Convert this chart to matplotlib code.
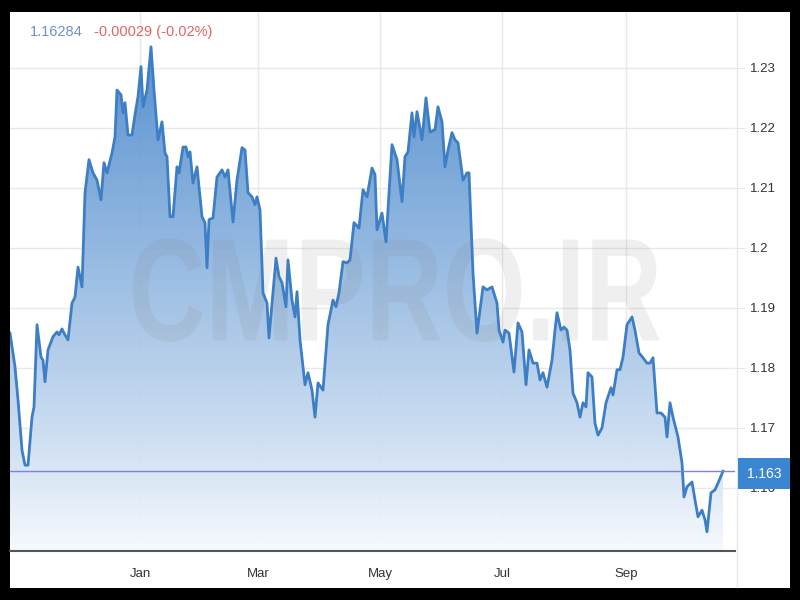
import matplotlib
matplotlib.use("Agg")
import matplotlib.pyplot as plt
import numpy as np
from matplotlib.patches import Rectangle, PathPatch, Polygon
from matplotlib.textpath import TextPath
from matplotlib.font_manager import FontProperties
from matplotlib.transforms import Affine2D
from matplotlib.lines import Line2D

plt.rcParams['font.family'] = ['Liberation Sans', 'DejaVu Sans']

# days since 2020-10-28 and EUR/USD close
start = np.datetime64('2020-10-28')
days = [0, 2.5, 4, 6, 7.5, 9, 11, 12, 13.5, 15.5, 16.5, 17.5, 19, 21.5, 23.5, 24.5, 26, 27.5, 29,
        31, 32.5, 34, 36, 37.5, 39.5, 41.5, 43.5, 45.5, 47, 48.5, 51, 52.5, 53.5, 55.5, 56.5, 57.5,
        59, 61, 62.5, 64, 65.5, 66.5, 68.5, 70.5, 72, 74, 76, 77.5, 78.5, 80, 81.5, 83.5, 84.5, 86.5,
        88, 89, 90, 91.5, 93.5, 96, 97.5, 98.5, 99.5, 101.5, 103.5, 106, 107.5, 109, 111.5, 113.5,
        116, 117.5, 119, 121, 122.5, 123.5, 125, 126.5, 128.5, 129.5, 131.5, 133, 134.5, 136, 138,
        139, 141, 142.5, 143.5, 145, 147.5, 149, 151, 152.5, 154, 156.5, 159, 161.5, 163, 164.5,
        166.5, 168.5, 170, 172, 174.5, 176.5, 178.5, 181, 182.5, 183.5, 186, 188, 191, 193.5, 196,
        197.5, 199, 201, 202, 203.5, 206, 208, 210, 212.5, 214, 216, 217.5, 219, 221, 222.5, 224,
        226.5, 228.5, 229.5, 231.5, 233.5, 236.5, 238.5, 241, 243.5, 244.5, 246.5, 247.5, 249.5,
        252, 254, 256, 258, 259.5, 261.5, 263.5, 265, 266.5, 268.5, 271, 272.5, 273.5, 275.5, 277,
        278.5, 280, 281.5, 283.5, 285, 286.5, 288, 289, 291, 292.5, 294, 296, 298, 300.5, 301.5,
        303.5, 305, 306.5, 308.5, 311, 312.5, 314.5, 316.5, 318.5, 320, 321.5, 323.5, 325.5, 327.5,
        328.5, 330, 331.5, 334, 336, 337, 338.5, 341, 342.5, 344, 346, 347.5, 348.5, 350.5, 352.5,
        354, 356.5]
price = [1.1858, 1.1802, 1.1747, 1.1663, 1.1638, 1.1638, 1.1718, 1.1735, 1.1872, 1.1818, 1.1813,
         1.1777, 1.1830, 1.1852, 1.1860, 1.1855, 1.1865, 1.1855, 1.1847, 1.1908, 1.1918, 1.1968,
         1.1935, 1.2092, 1.2147, 1.2125, 1.2113, 1.2080, 1.2142, 1.2125, 1.2158, 1.2185, 1.2263,
         1.2255, 1.2225, 1.2242, 1.2188, 1.2188, 1.2222, 1.2252, 1.2302, 1.2235, 1.2263, 1.2335,
         1.2263, 1.2180, 1.2210, 1.2158, 1.2152, 1.2052, 1.2052, 1.2135, 1.2125, 1.2168, 1.2168,
         1.2152, 1.2160, 1.2108, 1.2135, 1.2052, 1.2042, 1.1967, 1.2047, 1.2050, 1.2118, 1.2130,
         1.2118, 1.2130, 1.2043, 1.2113, 1.2167, 1.2163, 1.2092, 1.2085, 1.2072, 1.2085, 1.2063,
         1.1925, 1.1908, 1.1850, 1.1925, 1.1983, 1.1952, 1.1942, 1.1902, 1.1980, 1.1913, 1.1885,
         1.1927, 1.1847, 1.1772, 1.1792, 1.1763, 1.1718, 1.1775, 1.1763, 1.1872, 1.1913, 1.1902,
         1.1925, 1.1977, 1.1975, 1.1980, 1.2042, 1.2033, 1.2097, 1.2085, 1.2133, 1.2122, 1.2030,
         1.2058, 1.2010, 1.2172, 1.2147, 1.2077, 1.2152, 1.2160, 1.2225, 1.2185, 1.2227, 1.2180,
         1.2250, 1.2193, 1.2197, 1.2235, 1.2210, 1.2135, 1.2163, 1.2192, 1.2180, 1.2175, 1.2113,
         1.2125, 1.2125, 1.1958, 1.1858, 1.1935, 1.1930, 1.1935, 1.1908, 1.1863, 1.1843, 1.1863,
         1.1858, 1.1793, 1.1875, 1.1860, 1.1772, 1.1830, 1.1808, 1.1808, 1.1780, 1.1792, 1.1768,
         1.1813, 1.1863, 1.1892, 1.1863, 1.1868, 1.1863, 1.1830, 1.1758, 1.1742, 1.1718, 1.1742,
         1.1735, 1.1792, 1.1785, 1.1708, 1.1688, 1.1700, 1.1742, 1.1767, 1.1755, 1.1797, 1.1797,
         1.1818, 1.1872, 1.1885, 1.1863, 1.1825, 1.1817, 1.1808, 1.1808, 1.1817, 1.1725, 1.1725,
         1.1718, 1.1685, 1.1742, 1.1718, 1.1685, 1.1642, 1.1585, 1.1602, 1.1610, 1.1580, 1.1552,
         1.1563, 1.1547, 1.1527, 1.1592, 1.1597, 1.1608, 1.1628]

month_labels = ['Jan', 'Mar', 'May', 'Jul', 'Sep']
month_dates = ['2021-01-01', '2021-03-01', '2021-05-01', '2021-07-01', '2021-09-01']
yticks = [1.16, 1.17, 1.18, 1.19, 1.20, 1.21, 1.22, 1.23]
last_price = 1.16284
last_label = '1.163'
change_text = '-0.00029 (-0.02%)'
watermark = 'CMPRO.IR'

W, H = 800, 600
fig = plt.figure(figsize=(8, 6), dpi=100, facecolor='black')

# white card inside the black frame
fig.add_artist(Rectangle((10 / W, 12 / H), 780 / W, 576 / H, transform=fig.transFigure,
                         facecolor='white', edgecolor='none', zorder=-1))

ax = fig.add_axes([10 / W, 49 / H, 725 / W, 539 / H])
ax.set_facecolor('white')
ymin, ymax = 1.1495, 1.2393
xmin, xmax = 0, 362.5

# gradient fill clipped to the area under the curve
top_col = np.array([66, 131, 202]) / 255
bot_col = np.array([247, 250, 254]) / 255
t = np.linspace(0, 1, 256)[:, None, None]
grad = bot_col + (top_col - bot_col) * t ** 0.9
img = ax.imshow(grad, extent=[xmin, xmax, ymin, ymax], aspect='auto', origin='lower',
                alpha=0.93, zorder=1)
verts = np.column_stack([np.r_[days[0], days, days[-1]], np.r_[ymin, price, ymin]])
area = Polygon(verts, closed=True, facecolor='none', edgecolor='none')
ax.add_patch(area)
img.set_clip_path(area)

ax.plot(days, price, color='#3d7ec4', lw=2, zorder=3)
ax.axhline(last_price, color='#7f82d8', lw=1, zorder=4)

# watermark, stretched to the reference's box
tp = TextPath((0, 0), watermark, size=100,
              prop=FontProperties(family='Liberation Sans', weight='bold'))
ext = tp.get_extents()
wm_tr = (Affine2D().translate(-ext.x0, -ext.y0)
         .scale(527 / ext.width / W, 104 / ext.height / H)
         .translate(133 / W, 1 - 342 / H)) + fig.transFigure
ax.add_patch(PathPatch(tp, transform=wm_tr, facecolor='#808080', edgecolor='none',
                       alpha=0.12, zorder=2.5))

ax.set_xlim(xmin, xmax)
ax.set_ylim(ymin, ymax)

# axes and grid
month_pos = [(np.datetime64(d) - start) / np.timedelta64(1, 'D') for d in month_dates]
ax.set_xticks(month_pos, month_labels)
ax.yaxis.tick_right()
ax.set_yticks(yticks, [f'{v:g}' for v in yticks])
ax.grid(True, color='#e8e8e8', lw=1)
ax.set_axisbelow(True)
ax.tick_params(axis='x', length=0, pad=12.5, labelsize=9.5, labelcolor='#333333')
ax.tick_params(axis='y', length=7, color='#e6e6e6', pad=3.5, labelsize=9.5,
               labelcolor='#333333')
for s in ['top', 'left', 'right']:
    ax.spines[s].set_visible(False)
ax.spines['bottom'].set_color('#555555')
ax.spines['bottom'].set_linewidth(1.5)

fig.add_artist(Line2D([737 / W, 737 / W], [13 / H, 588 / H], color='#e8e8e8', lw=1))

# last price tag
fig.add_artist(Rectangle((738 / W, 1 - 489 / H), 52 / W, 31 / H, transform=fig.transFigure,
                         facecolor='#3a86d2', edgecolor='none', zorder=5))
fig.text(764 / W, 1 - 474 / H, last_label, color='white', ha='center', va='center',
         fontsize=10, zorder=6)

# header
fig.text(30 / W, 1 - 32 / H, f'{last_price:.5f}', color='#6f92c4', fontsize=10.5, va='center')
fig.text(94 / W, 1 - 32 / H, change_text, color='#e06666', fontsize=10.5, va='center')

fig.savefig('out.png', dpi=100, facecolor='black')
